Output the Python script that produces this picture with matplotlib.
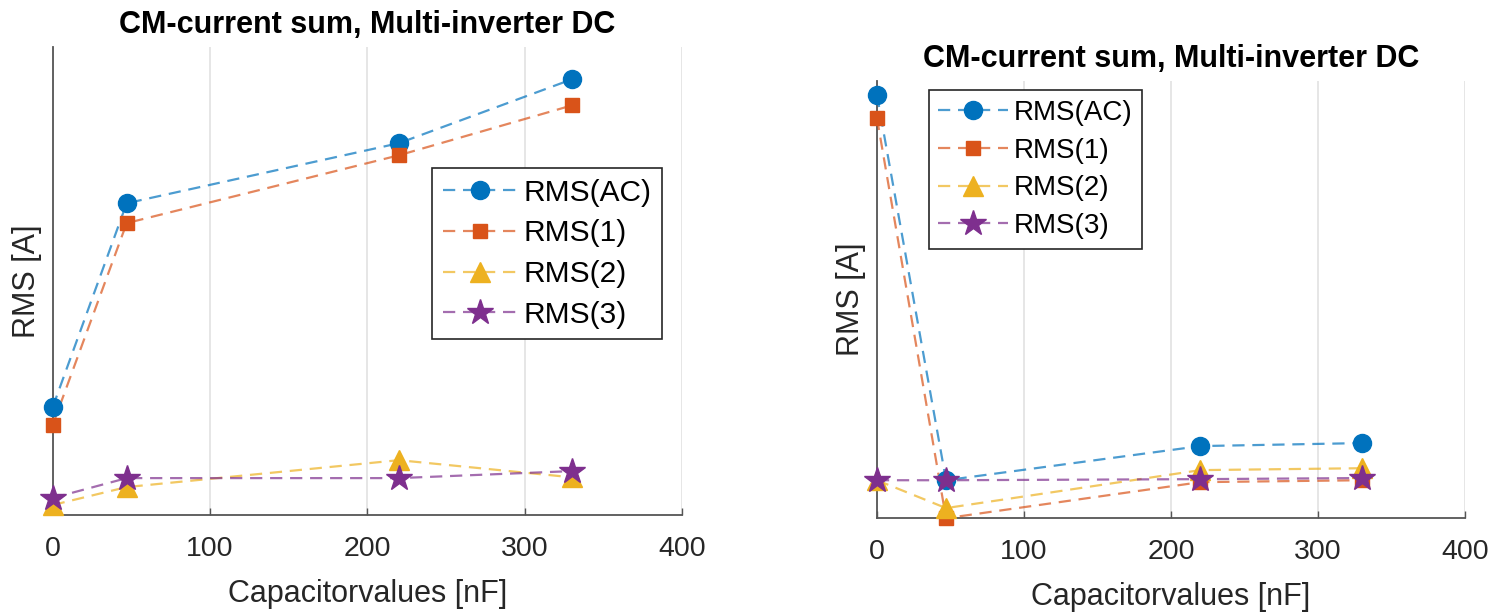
import matplotlib.pyplot as plt
from matplotlib.legend_handler import HandlerTuple

plt.rcParams['font.family'] = ['Liberation Sans', 'DejaVu Sans']

# capacitor values [nF]
cap = [0, 47, 220, 330]

# left plot: RMS values [A]
izq_ac = [0.277, 0.800, 0.954, 1.118]
izq_1 = [0.231, 0.749, 0.923, 1.051]
izq_2 = [0.026, 0.072, 0.141, 0.097]
izq_3 = [0.044, 0.095, 0.095, 0.113]

# right plot: RMS values [A]
der_ac = [1.599, 0.189, 0.314, 0.325]
der_1 = [1.515, 0.050, 0.182, 0.189]
der_2 = [0.189, 0.087, 0.226, 0.233]
der_3 = [0.189, 0.189, 0.193, 0.197]

nombres = ['RMS(AC)', 'RMS(1)', 'RMS(2)', 'RMS(3)']
colores = ['#0072BD', '#D95319', '#EDB120', '#7E2F8E']
marcas = ['o', 's', '^', '*']
tam = [13, 10, 14, 19]

fig = plt.figure(figsize=(15.06, 6.14), dpi=100)
ax1 = fig.add_axes([0.035, 0.161, 0.418, 0.762])
ax2 = fig.add_axes([0.5823, 0.156, 0.3904, 0.712])


def dibujar(ax, series, ylim, leg_pos, leg_fs):
    handles = []
    for k, y in enumerate(series):
        ln, = ax.plot(cap, y, color=colores[k], lw=1.6, dashes=(5.5, 3.5),
                      alpha=0.7, zorder=3, clip_on=False)
        mk, = ax.plot(cap, y, ls='none', marker=marcas[k], ms=tam[k],
                      color=colores[k], mec=colores[k], zorder=5, clip_on=False)
        handles.append((ln, mk))
    ax.set_xlim(0, 400)
    ax.set_ylim(*ylim)
    ax.set_xticks([0, 100, 200, 300, 400])
    ax.set_yticks([])
    ax.grid(axis='x', color='#e2e2e2', lw=1.2)
    ax.set_axisbelow(True)
    for s in ['top', 'right']:
        ax.spines[s].set_visible(False)
    for s in ['left', 'bottom']:
        ax.spines[s].set_color('#555555')
        ax.spines[s].set_linewidth(1.3)
    ax.tick_params(axis='x', direction='in', length=5, width=1, colors='#555555',
                   labelcolor='#262626', labelsize=20.5, pad=15)
    ax.set_xlabel('Capacitorvalues [nF]', fontsize=22, color='#262626', labelpad=12)
    ax.set_ylabel('RMS [A]', fontsize=22, color='#262626', labelpad=8)
    ax.set_title('CM-current sum, Multi-inverter DC', fontsize=22,
                 fontweight='bold', pad=10)
    leg = ax.legend(handles, nombres, handler_map={tuple: HandlerTuple(ndivide=1)},
                    loc='upper left', bbox_to_anchor=leg_pos, borderaxespad=0,
                    fontsize=leg_fs, handlelength=2.5, handletextpad=0.2,
                    labelspacing=0.42, borderpad=0.35, fancybox=False,
                    edgecolor='#262626', framealpha=1)
    leg.get_frame().set_linewidth(1.2)
    leg.set_zorder(10)


dibujar(ax1, [izq_ac, izq_1, izq_2, izq_3], (0, 1.2), (0.603, 0.741), 21.5)
dibujar(ax2, [der_ac, der_1, der_2, der_3], (0.05, 1.65), (0.088, 0.979), 20)

plt.savefig('out.png', dpi=100)
